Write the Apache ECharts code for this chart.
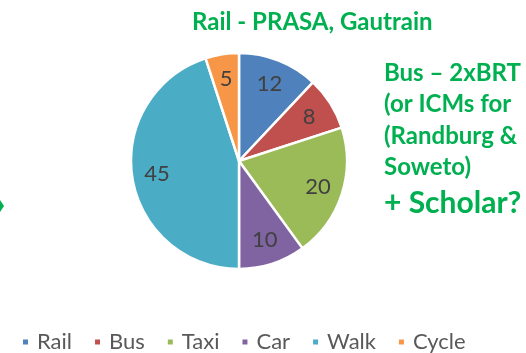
<!DOCTYPE html>
<html>
<head>
<meta charset="utf-8">
<script src="https://cdn.jsdelivr.net/npm/echarts@6/dist/echarts.min.js"></script>
<style>
  html, body { margin: 0; padding: 0; background: #fff; }
  #chart { width: 526px; height: 353px; }
</style>
</head>
<body>
<div id="chart"></div>
<script>
// Modal split shares (percent)
const categories = ['Rail', 'Bus', 'Taxi', 'Car', 'Walk', 'Cycle'];
const shares = [12, 8, 20, 10, 45, 5];
const colors = ['#4F81BD', '#C0504D', '#9BBB59', '#8064A2', '#4BACC6', '#F79646'];

const titleText = 'Rail - PRASA, Gautrain';
const noteLines = ['Bus \u2013 2xBRT', '(or ICMs for', '(Randburg &', 'Soweto)'];
const noteTail = '+ Scholar?';

const green = '#00B050';
const font = 'Lato, "Open Sans", sans-serif';

const pieData = categories.map((name, i) => ({ name, value: shares[i] }));

const chart = echarts.init(document.getElementById('chart'), null, { renderer: 'canvas' });

chart.setOption({
  backgroundColor: '#ffffff',
  color: colors,
  animation: false,
  title: {
    text: titleText,
    left: 187,
    top: 5,
    textStyle: { color: green, fontFamily: font, fontWeight: 'bold', fontSize: 24 }
  },
  legend: {
    data: categories,
    left: 16,
    top: 326,
    icon: 'rect',
    itemWidth: 7,
    itemHeight: 7,
    itemGap: 21,
    textStyle: { color: '#595959', fontFamily: font, fontSize: 22, padding: [0, 0, 0, 3] }
  },
  graphic: [
    {
      type: 'group',
      left: 384,
      top: 61,
      children: noteLines.map((t, i) => ({
        type: 'text',
        top: i * 31.5,
        style: { text: t, fill: green, font: 'bold 24px ' + font }
      })).concat([{
        type: 'text',
        top: 127,
        style: { text: noteTail, fill: green, font: 'bold 30px ' + font }
      }])
    },
    {
      type: 'polygon',
      shape: { points: [[0, 200], [4, 206], [0, 212]] },
      style: { fill: green }
    }
  ],
  series: [
    {
      type: 'pie',
      center: [239, 161],
      radius: [0, 108],
      startAngle: 90,
      clockwise: true,
      data: pieData,
      itemStyle: { borderColor: '#ffffff', borderWidth: 2.5 },
      label: { show: false },
      labelLine: { show: false },
      silent: true
    },
    {
      // transparent ring used only to place the value labels
      type: 'pie',
      center: [239, 161],
      radius: [60, 100],
      startAngle: 90,
      clockwise: true,
      data: pieData,
      itemStyle: { color: 'rgba(0,0,0,0)' },
      label: {
        show: true,
        position: 'inside',
        formatter: '{c}',
        color: '#404040',
        fontFamily: font,
        fontSize: 22
      },
      labelLine: { show: false },
      silent: true
    }
  ]
});
</script>
</body>
</html>
